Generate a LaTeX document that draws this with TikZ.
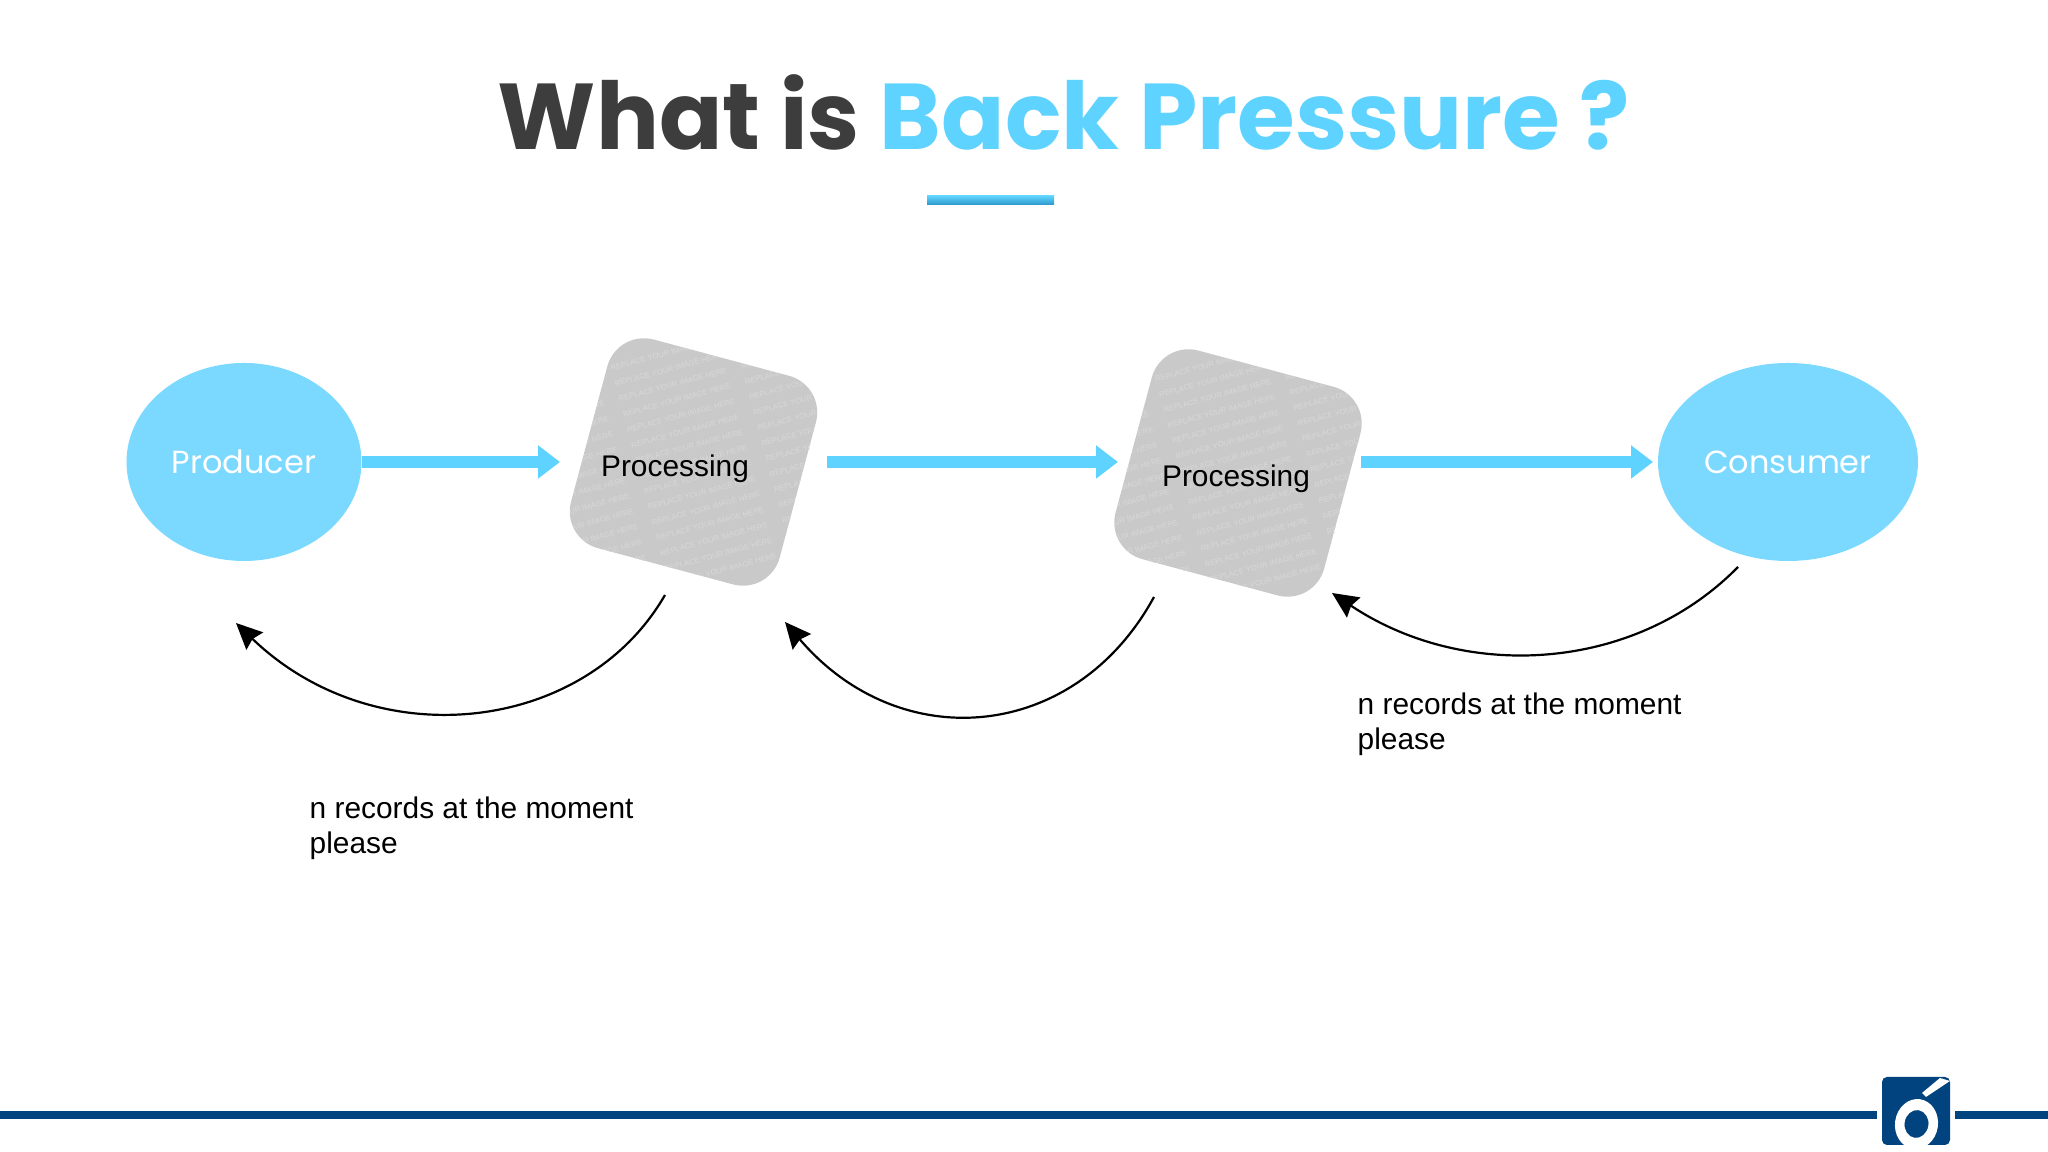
\documentclass[tikz,border=0pt]{standalone}
\usepackage{fontspec}
\setmainfont{Liberation Sans}
\newfontfamily\poppins{Poppins}
\usetikzlibrary{arrows.meta,shapes.geometric}
\definecolor{skyblue}{HTML}{5FD3FF}
\definecolor{ovalblue}{HTML}{7BD8FF}
\definecolor{titlegray}{HTML}{3D3D3D}
\definecolor{barblue}{HTML}{00437F}
\definecolor{blobgray}{HTML}{C9C9C9}
\definecolor{markgray}{HTML}{D8D8D8}
\definecolor{ruleblue}{HTML}{2A96C8}
\newcommand{\markrow}{REPLACE YOUR IMAGE HERE ~ ~ ~ REPLACE YOUR IMAGE HERE ~ ~ ~ REPLACE YOUR IMAGE HERE}
\newcommand{\markrows}{\markrow\\\markrow\\\markrow\\\markrow\\\markrow\\\markrow\\\markrow\\\markrow\\\markrow\\\markrow\\\markrow\\\markrow\\\markrow\\\markrow\\\markrow}
\tikzset{
	oval/.style = {ellipse, fill=ovalblue, text=white, font=\poppins\fontsize{9.1}{9.1}\selectfont, inner sep=0pt},
	blob/.style = {rectangle, rounded corners=0.38cm, fill=blobgray, minimum size=2.16cm, rotate=-15,
		path picture={
			\node[rotate=15, text=markgray, align=center, font=\fontsize{2.2}{4.55}\selectfont] at (path picture bounding box.center) {\markrows};
		}},
	flow/.style = {line width=0.12cm, skyblue, -{Triangle[length=0.22cm,width=0.32cm]}},
	back/.style = {line width=0.022cm, black, -{Stealth[length=0.26cm,width=0.24cm,inset=0.03cm]}},
	say/.style = {align=left, anchor=west, font=\fontsize{8.5}{10}\selectfont, inner sep=0pt},
	proc/.style = {font=\fontsize{8.5}{10}\selectfont, inner sep=0pt}
}
\begin{document}
\begin{tikzpicture}
	\useasboundingbox (0,0) rectangle (20.48,11.52);
	\node[font=\poppins\bfseries\fontsize{26.6}{26.6}\selectfont, anchor=base, inner sep=0pt] (title) at (10.64,10.02)
		{\textcolor{titlegray}{What is} \textcolor{skyblue}{Back Pressure ?}};
	\fill[top color=skyblue, bottom color=ruleblue] (9.27,9.56) rectangle (10.54,9.47);
	% shapes
	\node[oval, minimum width=2.35cm, minimum height=1.98cm] (producer) at (2.44,6.90) {Producer};
	\node[oval, minimum width=2.60cm, minimum height=1.98cm] (consumer) at (17.88,6.90) {Consumer};
	\node[blob] (blobA) at (6.935,6.90) {};
	\node[blob] (blobB) at (12.38,6.79) {};
	\node[proc] (procA) at (6.75,6.83) {Processing};
	\node[proc] (procB) at (12.36,6.73) {Processing};
	% free ends of the arrows
	\coordinate (inA) at (5.60,6.90);
	\coordinate (outA) at (8.27,6.90);
	\coordinate (inB) at (11.18,6.90);
	\coordinate (outB) at (13.61,6.90);
	\coordinate (inC) at (16.53,6.90);
	\coordinate (leaveA) at (6.65,5.57);
	\coordinate (reachP) at (2.36,5.29);
	\coordinate (leaveB) at (11.54,5.55);
	\coordinate (reachA) at (7.85,5.30);
	\coordinate (leaveC) at (17.38,5.85);
	\coordinate (reachB) at (13.32,5.59);
	\draw[flow] (producer.east |- inA) -- (inA);
	\draw[flow] (outA) -- (inB);
	\draw[flow] (outB) -- (inC);
	\draw[back] (leaveA) .. controls (5.85,4.18) and (3.75,3.95) .. (reachP);
	\draw[back] (leaveB) .. controls (10.75,4.10) and (9.00,3.95) .. (reachA);
	\draw[back] (leaveC) .. controls (16.35,4.80) and (14.65,4.70) .. (reachB);
	\node[say] (sayA) at (3.09,3.235) {n records at the moment\\please};
	\node[say] (sayB) at (13.57,4.275) {n records at the moment\\please};
	% bottom bar and logo
	\fill[barblue] (0,0.33) rectangle (18.77,0.41);
	\fill[barblue] (19.55,0.33) rectangle (20.48,0.41);
	\fill[barblue, rounded corners=0.05cm] (18.82,0.07) rectangle (19.50,0.75);
	\begin{scope}
		\clip (18.82,0.07) rectangle (19.50,0.75);
		\fill[white, even odd rule, rotate around={-8:(19.165,0.28)}]
			(19.165,0.28) ellipse (0.215cm and 0.25cm) (19.165,0.28) ellipse (0.12cm and 0.14cm);
		\fill[white] (19.22,0.59) -- (19.40,0.74) -- (19.50,0.71) -- (19.26,0.55) -- cycle;
	\end{scope}
\end{tikzpicture}
\end{document}
